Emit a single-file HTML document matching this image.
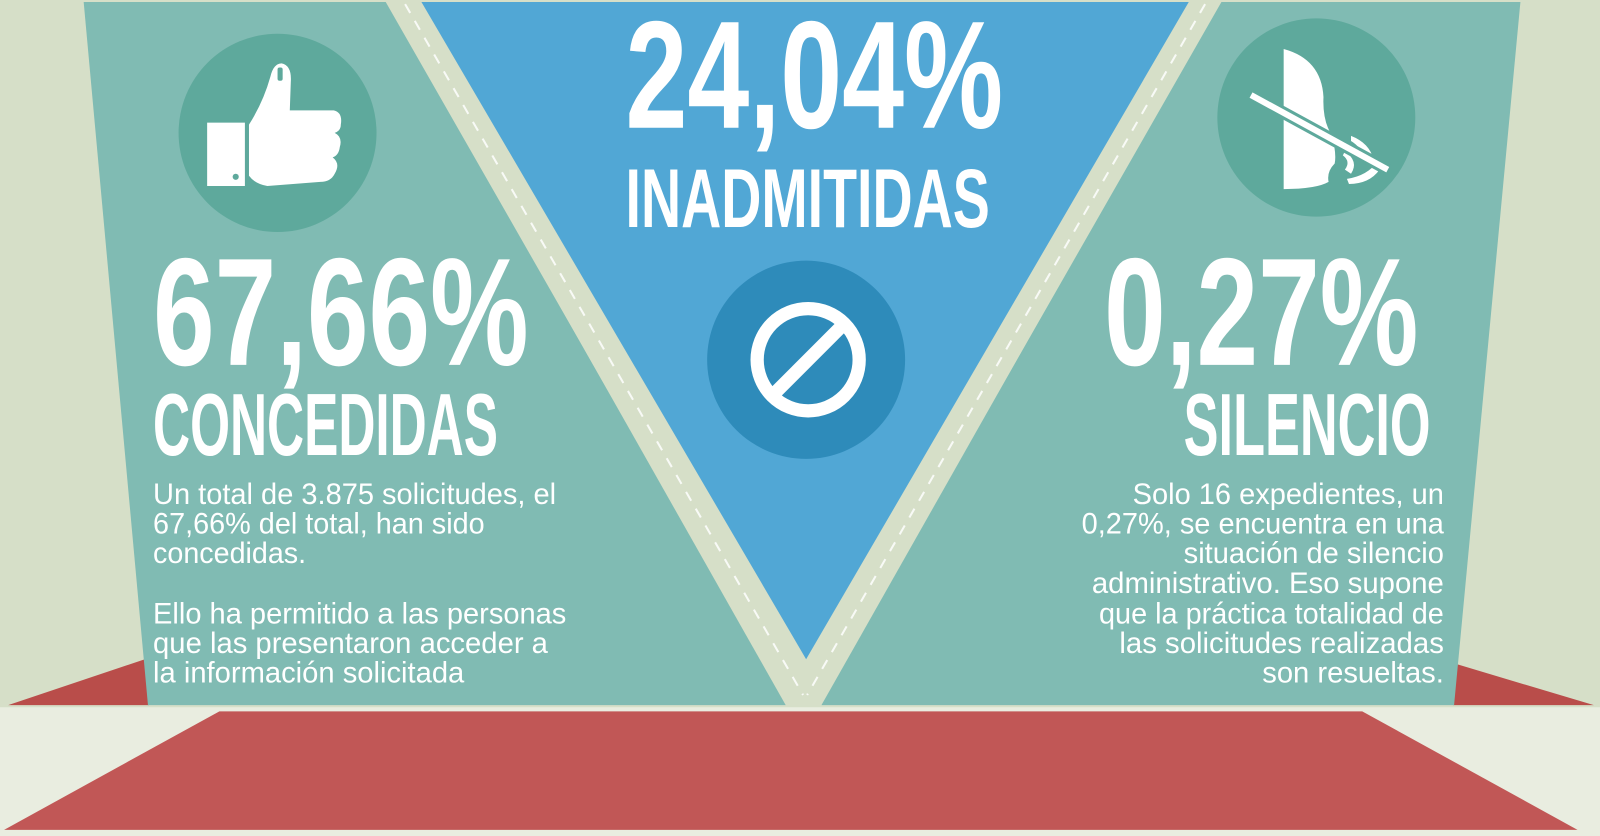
<!DOCTYPE html>
<html><head><meta charset="utf-8"><style>
html,body{margin:0;padding:0;width:1600px;height:836px;overflow:hidden;background:#d6dfc8}
svg{display:block}
.big{font-family:"Liberation Sans Narrow","Liberation Sans",sans-serif;font-weight:bold;fill:#fff}
.body{font-family:"Liberation Sans Narrow","Liberation Sans",sans-serif;fill:#fff;font-size:29px}
</style></head><body>
<svg width="1600" height="836" viewBox="0 0 1568 818" preserveAspectRatio="none">
<rect x="0" y="0" width="1568" height="818" fill="#d6dfc8"/>
<rect x="0" y="692" width="1568" height="126" fill="#e9ede0"/>
<polygon points="8,690 142,645 146,690" fill="#b94d4a"/>
<polygon points="1428,650 1562,690 1424,690" fill="#b94d4a"/>
<polygon points="215,696 1335,696 1546,812 4,812" fill="#c15756"/>
<polygon points="82,2 380,2 770,690 145,690" fill="#80bbb3"/>
<polygon points="1195,2 1490,2 1425,690 805,690" fill="#80bbb3"/>
<polygon points="378,2 414,2 790,650 1165,2 1197,2 803,690 772,690" fill="#d6dfc8"/>
<polygon points="413,2 1165,2 790,645" fill="#51a7d5"/>
<line x1="397" y1="4" x2="787" y2="680" stroke="#fff" stroke-width="2" stroke-dasharray="10 9" opacity="0.85"/>
<line x1="1181" y1="4" x2="791" y2="680" stroke="#fff" stroke-width="2" stroke-dasharray="10 9" opacity="0.85"/>
<circle cx="272" cy="130" r="97" fill="#5ea99c"/>
<circle cx="1290" cy="115" r="97" fill="#5ea99c"/>
<circle cx="790" cy="352" r="97" fill="#2e8bba"/>
<circle cx="792" cy="352" r="50" fill="none" stroke="#fff" stroke-width="13"/>
<line x1="760" y1="384" x2="824" y2="320" stroke="#fff" stroke-width="13"/>
<rect x="203" y="120" width="37" height="62" fill="#fff"/>
<circle cx="231" cy="173" r="3" fill="#5ea99c"/>
<path d="M244,122 Q258,100 265,75 Q268,62 276,62 Q286,64 285,80 L284,108 L327,108 Q336,110 334,122 Q334,128 328,130 Q336,134 333,144 Q332,152 326,154 Q334,160 328,170 Q324,178 314,178 L262,182 Q250,180 244,172 Z" fill="#fff"/>
<rect x="272" y="66" width="5" height="13" rx="2" fill="#5ea99c"/>
<path d="M1258,48 Q1295,58 1297,95 Q1296,118 1305,132 Q1310,150 1308,160 Q1300,168 1302,178 Q1290,185 1258,185 Z" fill="#fff"/>
<path d="M1324,133 Q1342,140 1346,156 L1340,158 Q1334,144 1324,138 Z M1318,148 Q1332,158 1324,170 L1318,166 Q1324,158 1316,152 Z M1320,175 Q1340,172 1350,158 L1352,166 Q1342,180 1322,180 Z" fill="#fff"/>
<line x1="1226" y1="93" x2="1360" y2="166" stroke="#5ea99c" stroke-width="12"/>
<line x1="1226" y1="93" x2="1360" y2="166" stroke="#fff" stroke-width="6"/>
<text class="big" x="613" y="125" font-size="150" textLength="370" lengthAdjust="spacingAndGlyphs">24,04%</text>
<text class="big" x="613" y="222" font-size="82" textLength="357" lengthAdjust="spacingAndGlyphs">INADMITIDAS</text>
<text class="big" x="150" y="357" font-size="150" textLength="368" lengthAdjust="spacingAndGlyphs">67,66%</text>
<text class="big" x="150" y="445" font-size="86" textLength="338" lengthAdjust="spacingAndGlyphs">CONCEDIDAS</text>
<text class="big" x="1082" y="357" font-size="150" textLength="308" lengthAdjust="spacingAndGlyphs">0,27%</text>
<text class="big" x="1160" y="445" font-size="86" textLength="242" lengthAdjust="spacingAndGlyphs">SILENCIO</text>
<g class="body">
<text x="150" y="493" textLength="395" lengthAdjust="spacingAndGlyphs">Un total de 3.875 solicitudes, el</text>
<text x="150" y="522" textLength="325" lengthAdjust="spacingAndGlyphs">67,66% del total, han sido</text>
<text x="150" y="551" textLength="150" lengthAdjust="spacingAndGlyphs">concedidas.</text>
<text x="150" y="610" textLength="405" lengthAdjust="spacingAndGlyphs">Ello ha permitido a las personas</text>
<text x="150" y="639" textLength="387" lengthAdjust="spacingAndGlyphs">que las presentaron acceder a</text>
<text x="150" y="668" textLength="305" lengthAdjust="spacingAndGlyphs">la información solicitada</text>
</g>
<g class="body">
<text x="1110" y="493" textLength="305" lengthAdjust="spacingAndGlyphs">Solo 16 expedientes, un</text>
<text x="1060" y="522" textLength="355" lengthAdjust="spacingAndGlyphs">0,27%, se encuentra en una</text>
<text x="1160" y="551" textLength="255" lengthAdjust="spacingAndGlyphs">situación de silencio</text>
<text x="1070" y="580" textLength="345" lengthAdjust="spacingAndGlyphs">administrativo. Eso supone</text>
<text x="1077" y="610" textLength="338" lengthAdjust="spacingAndGlyphs">que la práctica totalidad de</text>
<text x="1097" y="639" textLength="318" lengthAdjust="spacingAndGlyphs">las solicitudes realizadas</text>
<text x="1237" y="668" textLength="178" lengthAdjust="spacingAndGlyphs">son resueltas.</text>
</g>
</svg>
</body></html>
